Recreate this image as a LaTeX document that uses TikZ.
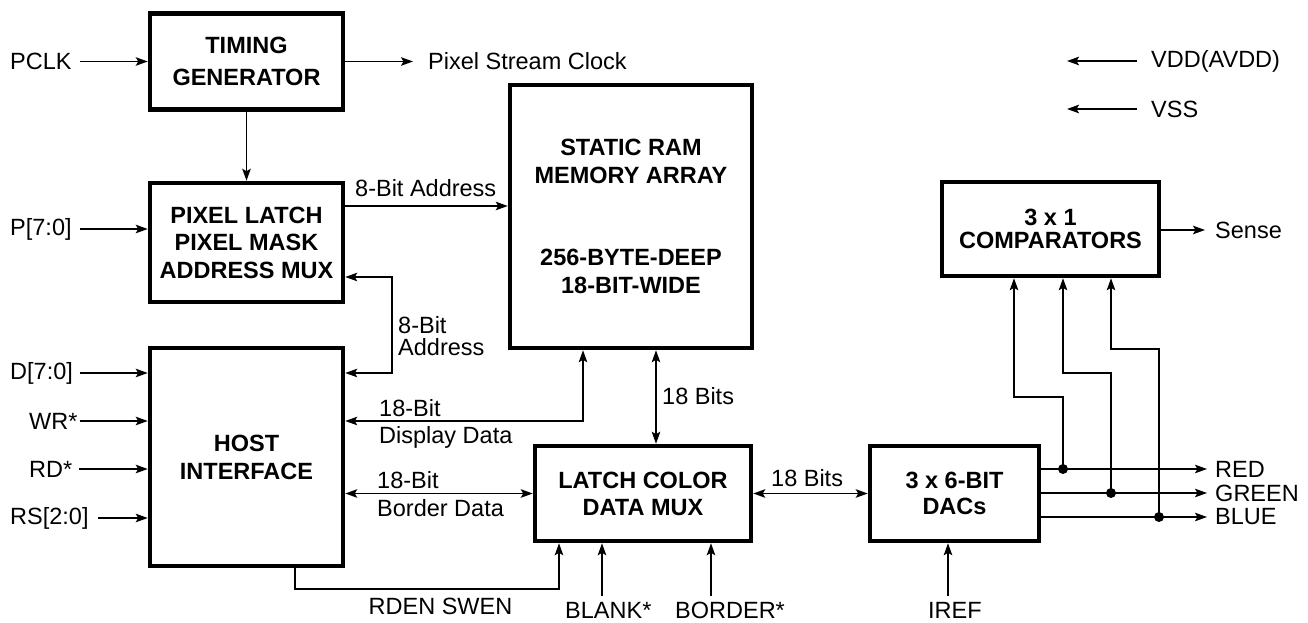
\documentclass[tikz,border=0pt]{standalone}
\usepackage{fontspec}
\setmainfont{Liberation Sans}
\usetikzlibrary{arrows.meta}
\begin{document}
\begin{tikzpicture}[x=1pt,y=-1pt,
  every node/.style={font=\fontsize{23.5}{28}\selectfont},
  blk/.style={draw,line width=4.5pt,inner sep=0pt,align=center,font=\fontsize{23.5}{28}\selectfont\bfseries},
  lbl/.style={inner sep=0pt,anchor=west},
  blbl/.style={inner sep=0pt,anchor=base west},
  wire/.style={line width=1.7pt},
  arr/.style={wire,-{Stealth[length=12pt,width=8.5pt,inset=2.5pt]}},
  arrtwo/.style={wire,{Stealth[length=12pt,width=8.5pt,inset=2.5pt]}-{Stealth[length=12pt,width=8.5pt,inset=2.5pt]}},
  dotc/.style={fill,circle,inner sep=0pt,minimum size=10pt}]
\useasboundingbox (0,0) rectangle (1308,623);
% blocks
\node[blk,minimum width=193pt,minimum height=96pt,font=\fontsize{23.5}{32}\selectfont\bfseries] (timing) at (246.5,61.5) {TIMING\\GENERATOR};
\node[blk,minimum width=193pt,minimum height=119pt,font=\fontsize{23.5}{27.5}\selectfont\bfseries] (pixel) at (246.5,242.5) {PIXEL LATCH\\PIXEL MASK\\ADDRESS MUX};
\node[blk,minimum width=242pt,minimum height=263pt] (ram) at (631,216.5) {STATIC RAM\\MEMORY ARRAY\\[54pt]256-BYTE-DEEP\\18-BIT-WIDE};
\node[blk,minimum width=193pt,minimum height=218pt] (host) at (246.5,457) {HOST\\INTERFACE};
\node[blk,minimum width=216pt,minimum height=95pt,font=\fontsize{23.5}{27}\selectfont\bfseries] (latch) at (643,493.5) {LATCH COLOR\\DATA MUX};
\node[blk,minimum width=169pt,minimum height=95pt,font=\fontsize{23.5}{26}\selectfont\bfseries] (dac) at (954.5,493.5) {3 x 6-BIT\\DACs};
\node[blk,minimum width=217pt,minimum height=94pt,font=\fontsize{23.5}{23}\selectfont\bfseries] (comp) at (1050.5,229) {3 x 1\\COMPARATORS};
% left inputs
\node[lbl] (pclk) at (10,61.5) {PCLK};
\node[lbl] (p) at (10,229) {P[7:0]};
\node[lbl] (d) at (10,373) {D[7:0]};
\node[lbl] (wr) at (29,421) {WR*};
\node[lbl] (rd) at (29,469) {RD*};
\node[lbl] (rs) at (10,518) {RS[2:0]};
\draw[arr,shorten <=8pt] (pclk.east) -- (pclk.east -| timing.west);
\draw[arr,shorten <=8pt] (p.east) -- (p.east -| pixel.west);
\draw[arr,shorten <=7pt] (d.east) -- (d.east -| host.west);
\draw[arr,shorten <=2pt] (wr.east) -- (wr.east -| host.west);
\draw[arr,shorten <=7pt] (rd.east) -- (rd.east -| host.west);
\draw[arr,shorten <=9pt] (rs.east) -- (rs.east -| host.west);
% timing outputs
\node[lbl] (psc) at (428,61.5) {Pixel Stream Clock};
\draw[arr,shorten >=15pt] (timing.east) -- (psc.west);
\draw[arr] (timing.south) -- (pixel.north);
% 8-bit address to RAM
\coordinate (ya) at (0,206);
\draw[arr] (ya -| pixel.east) -- (ya -| ram.west);
\node[lbl] (a8) at (355,188) {8-Bit Address};
% 8-bit address pixel <-> host
\coordinate (c1) at (392,277);
\coordinate (c2) at (392,373);
\draw[arrtwo] (c1 -| pixel.east) -- (c1) -- (c2) -- (c2 -| host.east);
\node[lbl] (a8b) at (398,325) {8-Bit};
\node[lbl] (a8c) at (398,347) {Address};
% display data
\coordinate (dd) at (583,421);
\draw[arrtwo] (dd -| host.east) -- (dd) -- (dd |- ram.south);
\node[lbl] (dd1) at (379,408) {18-Bit};
\node[lbl] (dd2) at (379,437) {Display Data};
% border data
\draw[arrtwo] (latch.west -| host.east) -- (latch.west);
\node[lbl] (bd1) at (377,480) {18-Bit};
\node[lbl] (bd2) at (377,508) {Border Data};
% RAM <-> latch
\coordinate (rl) at (656,0);
\draw[arrtwo] (rl |- ram.south) -- (rl |- latch.north);
\node[lbl] (b18a) at (662,396) {18 Bits};
% latch <-> dac
\draw[arrtwo] (latch.east) -- (dac.west);
\node[lbl] (b18b) at (771,478) {18 Bits};
% RDEN SWEN
\coordinate (rda) at (295,589);
\coordinate (rdb) at (559,589);
\draw[arr] (rda |- host.south) -- (rda) -- (rdb) -- (rdb |- latch.south);
\node[inner sep=0pt] (rden) at (440.5,606) {RDEN SWEN};
% bottom inputs
\node[blbl] (blank) at (565,618) {BLANK*};
\node[blbl] (border) at (675,618) {BORDER*};
\node[blbl] (iref) at (928,618) {IREF};
\coordinate (bls) at (602,596);
\coordinate (bos) at (711,596);
\coordinate (irs) at (948,596);
\draw[arr] (bls) -- (bls |- latch.south);
\draw[arr] (bos) -- (bos |- latch.south);
\draw[arr] (irs) -- (irs |- dac.south);
% outputs
\node[lbl] (red) at (1215,469) {RED};
\node[lbl] (green) at (1215,493) {GREEN};
\node[lbl] (blue) at (1215,517) {BLUE};
\draw[arr,shorten >=8pt] (red.west -| dac.east) -- (red.west);
\draw[arr,shorten >=8pt] (green.west -| dac.east) -- (green.west);
\draw[arr,shorten >=8pt] (blue.west -| dac.east) -- (blue.west);
\node[dotc] (dr) at (1063,469) {};
\node[dotc] (dg) at (1111,493) {};
\node[dotc] (db) at (1159,517) {};
\coordinate (r1) at (1063,397);
\coordinate (r2) at (1014,397);
\coordinate (g1) at (1111,373);
\coordinate (g2) at (1063,373);
\coordinate (u1) at (1159,349);
\coordinate (u2) at (1111,349);
\draw[arr] (dr.center) -- (r1) -- (r2) -- (r2 |- comp.south);
\draw[arr] (dg.center) -- (g1) -- (g2) -- (g2 |- comp.south);
\draw[arr] (db.center) -- (u1) -- (u2) -- (u2 |- comp.south);
% sense
\node[lbl] (sense) at (1215,230) {Sense};
\draw[arr,shorten >=10pt] (comp.east |- sense.west) -- (sense.west);
% power
\node[lbl] (vdd) at (1151,61) {VDD(AVDD)};
\node[lbl] (vss) at (1151,109) {VSS};
\coordinate (vdde) at (1067,61);
\coordinate (vsse) at (1067,109);
\draw[arr,shorten <=14pt] (vdd.west) -- (vdde);
\draw[arr,shorten <=14pt] (vss.west) -- (vsse);
\end{tikzpicture}
\end{document}
